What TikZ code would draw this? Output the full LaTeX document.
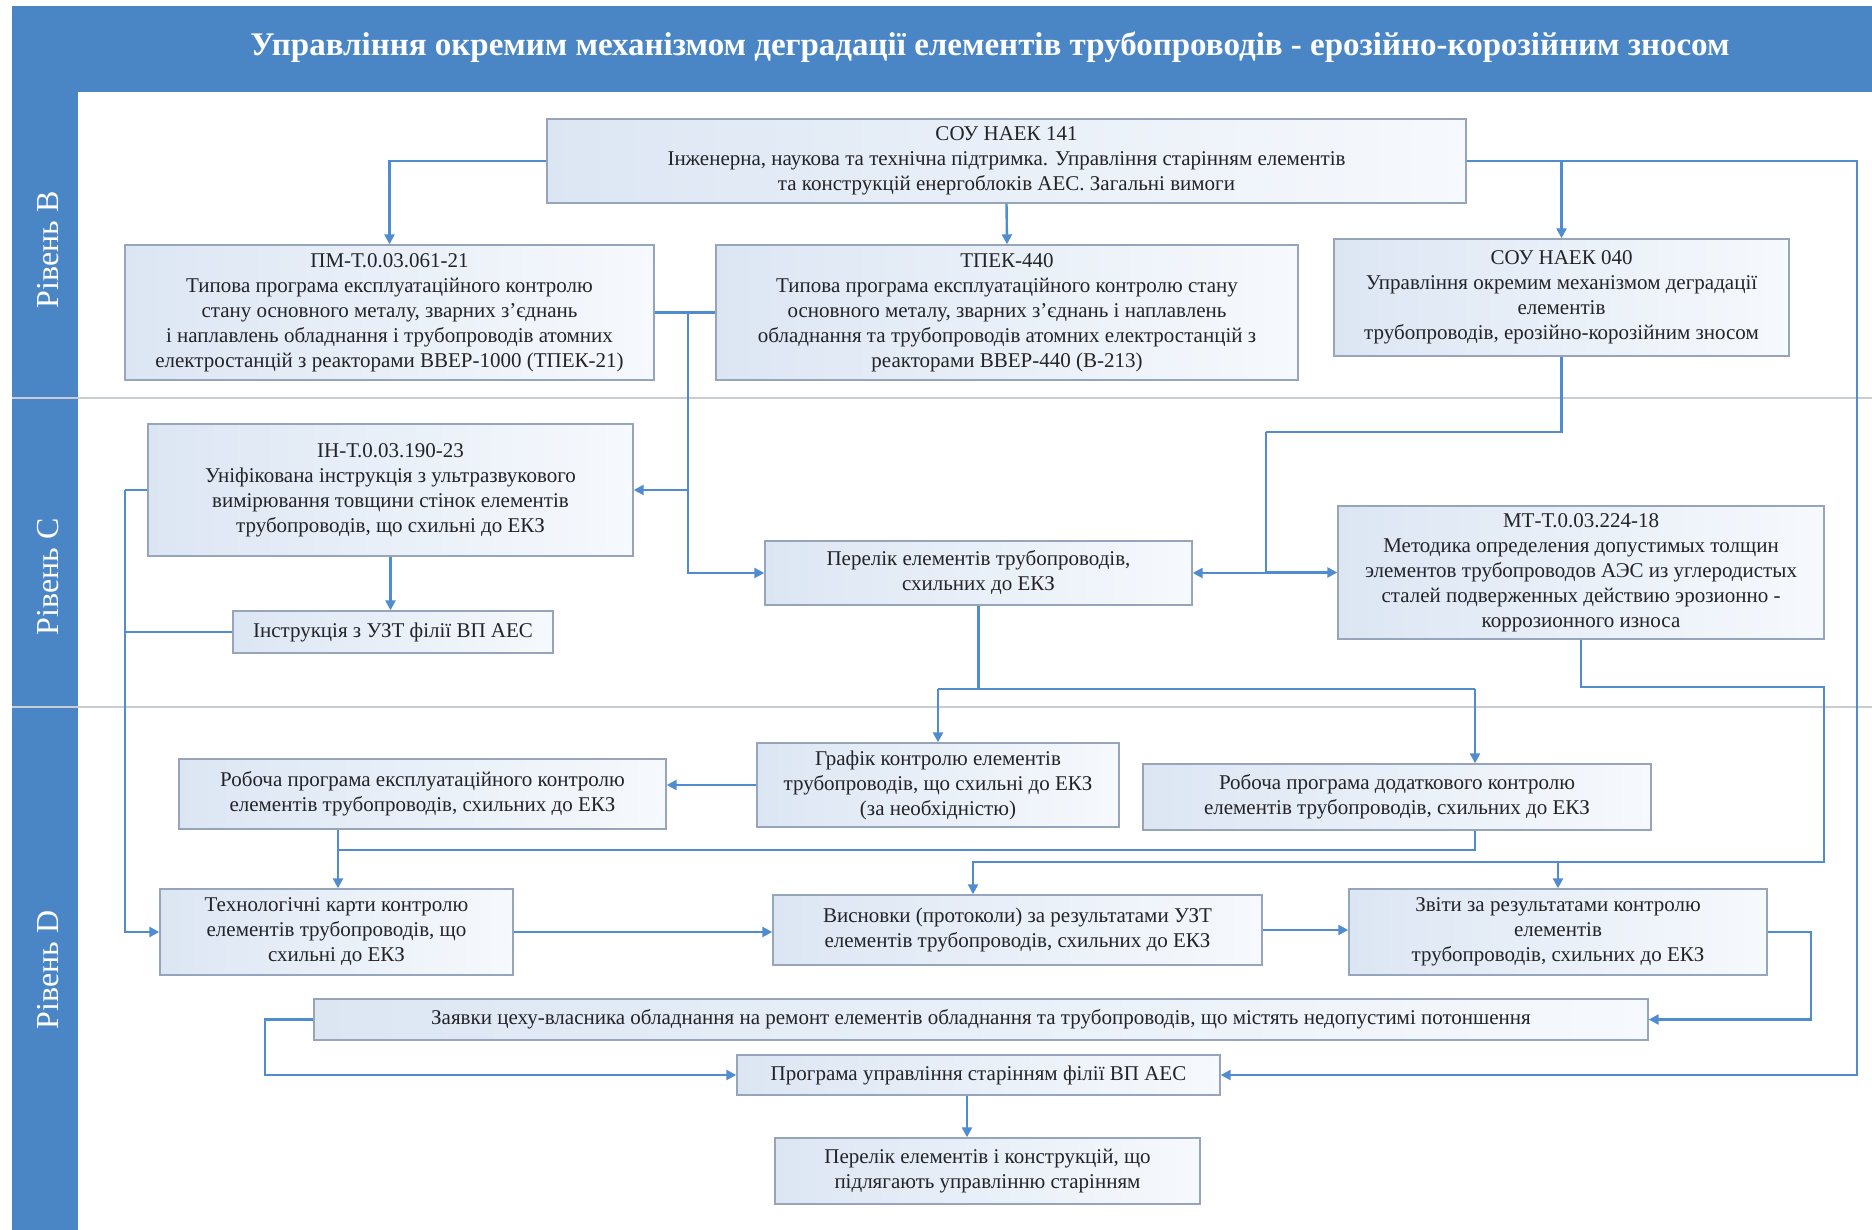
\documentclass[tikz,border=0pt]{standalone}
\usepackage{fontspec}
\setmainfont{Liberation Serif}
\usetikzlibrary{arrows.meta,calc}
\definecolor{band}{RGB}{74,134,197}
\definecolor{conn}{RGB}{79,141,208}
\definecolor{bord}{RGB}{150,165,188}
\definecolor{boxl}{RGB}{220,230,243}
\definecolor{boxr}{RGB}{246,249,253}
\definecolor{txt}{RGB}{35,35,40}
\definecolor{sepc}{RGB}{200,205,212}
\begin{document}
\begin{tikzpicture}[x=0.5pt,y=-0.5pt,
 bx/.style={draw=bord, line width=0.7pt, left color=boxl, right color=boxr, align=center, inner sep=2pt, text=txt, font=\fontsize{10.5}{12.5}\selectfont},
 ln/.style={draw=conn, line width=1.2pt},
 ar/.style={ln, -{Triangle[length=5pt,width=5pt]}},
 lvl/.style={rotate=90, text=white, font=\fontsize{16}{18}\selectfont},
]
\useasboundingbox (0,0) rectangle (1872,1230);
\fill[white] (0,0) rectangle (1872,1230);
\fill[band] (12,6) rectangle (1872,92);
\fill[band] (12,92) rectangle (78,1230);
\draw[sepc, line width=0.8pt] (12,398) -- (1872,398);
\draw[sepc, line width=0.8pt] (12,707) -- (1872,707);

\node[text=white, font=\fontsize{16.5}{20}\selectfont\bfseries] (title) at (990,47) {Управління окремим механізмом деградації елементів трубопроводів - ерозійно-корозійним зносом};

\node[lvl] (lvB) at (48,250) {Рівень В};
\node[lvl] (lvC) at (48,577) {Рівень С};
\node[lvl] (lvD) at (48,970) {Рівень D};

% boxes
\node[bx, minimum width=459.5pt, minimum height=42pt] (s141) at (1006.5,161) {СОУ НАЕК 141\\Інженерна, наукова та технічна підтримка. Управління старінням елементів\\та конструкцій енергоблоків АЕС. Загальні вимоги};
\node[bx, minimum width=264.5pt, minimum height=67.5pt] (pm) at (389.5,312.5) {ПМ-Т.0.03.061-21\\Типова програма експлуатаційного контролю\\стану основного металу, зварних з'єднань\\і наплавлень обладнання і трубопроводів атомних\\електростанцій з реакторами ВВЕР-1000 (ТПЕК-21)};
\node[bx, minimum width=291pt, minimum height=67.5pt] (tpek) at (1007,312.5) {ТПЕК-440\\Типова програма експлуатаційного контролю стану\\основного металу, зварних з'єднань і наплавлень\\обладнання та трубопроводів атомних електростанцій з\\реакторами ВВЕР-440 (В-213)};
\node[bx, minimum width=227.5pt, minimum height=58.5pt] (s040) at (1561.5,297.5) {СОУ НАЕК 040\\Управління окремим механізмом деградації\\елементів\\трубопроводів, ерозійно-корозійним зносом};
\node[bx, minimum width=242.5pt, minimum height=66pt] (inx) at (390.5,490) {ІН-Т.0.03.190-23\\Уніфікована інструкція з ультразвукового\\вимірювання товщини стінок елементів\\трубопроводів, що схильні до ЕКЗ};
\node[bx, minimum width=160pt, minimum height=21pt] (uzt) at (393,632) {Інструкція з УЗТ філії ВП АЕС};
\node[bx, minimum width=213.5pt, minimum height=32pt] (perel) at (978.5,573) {Перелік елементів трубопроводів,\\схильних до ЕКЗ};
\node[bx, minimum width=243pt, minimum height=66.5pt] (mt) at (1581,572.5) {МТ-Т.0.03.224-18\\Методика определения допустимых толщин\\элементов трубопроводов АЭС из углеродистых\\сталей подверженных действию эрозионно -\\коррозионного износа};
\node[bx, minimum width=243.5pt, minimum height=35pt] (robeks) at (422.5,794) {Робоча програма експлуатаційного контролю\\елементів трубопроводів, схильних до ЕКЗ};
\node[bx, minimum width=181pt, minimum height=42pt] (graf) at (938,785) {Графік контролю елементів\\трубопроводів, що схильні до ЕКЗ\\(за необхідністю)};
\node[bx, minimum width=254pt, minimum height=33pt] (robdod) at (1397,797) {Робоча програма додаткового контролю\\елементів трубопроводів, схильних до ЕКЗ};
\node[bx, minimum width=176.5pt, minimum height=43pt] (tekh) at (336.5,932) {Технологічні карти контролю\\елементів трубопроводів, що\\схильні до ЕКЗ};
\node[bx, minimum width=244.5pt, minimum height=35pt] (vysn) at (1017.5,930) {Висновки (протоколи) за результатами УЗТ\\елементів трубопроводів, схильних до ЕКЗ};
\node[bx, minimum width=209pt, minimum height=43pt] (zvit) at (1558,932) {Звіти за результатами контролю\\елементів\\трубопроводів, схильних до ЕКЗ};
\node[bx, minimum width=667pt, minimum height=20.5pt] (zayav) at (981,1019.5) {Заявки цеху-власника обладнання на ремонт елементів обладнання та трубопроводів, що містять недопустимі потоншення};
\node[bx, minimum width=241.5pt, minimum height=20pt] (prog) at (978.5,1075) {Програма управління старінням філії ВП АЕС};
\node[bx, minimum width=212.5pt, minimum height=33pt] (perk) at (987.5,1171) {Перелік елементів і конструкцій, що\\підлягають управлінню старінням};

% connectors
\draw[ar] (s141.west) -| (pm.north);
\draw[ar] (s141.south) -- (tpek.north);
\draw[ar] (s141.east) -| (s040.north);
\coordinate (r1) at (1857,161);
\draw[ar] (s141.east) -- (r1) |- (prog.east);

\draw[ln] (pm.east) -- (tpek.west);
\coordinate (j1) at (688,312.5);
\draw[ar] (j1) |- (perel.west);
\draw[ar] (j1 |- inx.east) -- (inx.east);

\coordinate (j2) at (1266,432);
\draw[ln] (s040.south) |- (j2);
\draw[ar] (j2) |- (perel.east);
\draw[ar] (j2 |- mt.west) -- (mt.west);

\coordinate (h1) at (938,689);
\coordinate (h2) at (1475,689);
\draw[ln] (perel.south) -- (perel.south |- h1);
\draw[ln] (h1) -- (h2);
\draw[ar] (h1) -- (graf.north);
\draw[ar] (h2) -- (h2 |- robdod.north);

\draw[ar] (graf.west) -- (graf.west -| robeks.east);

\coordinate (m1) at (1824,687);
\coordinate (m2) at (1824,862);
\coordinate (m3) at (973,862);
\draw[ar] (mt.south) |- (m1) -- (m2) -- (m3) -- (m3 |- vysn.north);
\draw[ar] (zvit.north |- m2) -- (zvit.north);

\coordinate (d1) at (1475,850);
\coordinate (d2) at (338,850);
\draw[ar] (robdod.south -| d1) -- (d1) -- (d2) -- (d2 |- tekh.north);
\draw[ln] (robeks.south -| d2) -- (d2);

\draw[ar] (tekh.east) -- (tekh.east -| vysn.west);
\draw[ar] (vysn.east) -- (vysn.east -| zvit.west);
\coordinate (z1) at (1811,932);
\draw[ar] (zvit.east) -- (z1) |- (zayav.east);
\coordinate (z2) at (265,1019.5);
\draw[ar] (zayav.west) -- (z2) |- (prog.west);
\coordinate (p1) at (967,1075);
\draw[ar] (prog.south -| p1) -- (p1 |- perk.north);

\coordinate (l1) at (125,490);
\draw[ln] (inx.west) -- (l1);
\draw[ar] (l1) |- (tekh.west);
\draw[ln] (uzt.west) -- (uzt.west -| l1);
\draw[ar] (inx.south) -- (inx.south |- uzt.north);
\end{tikzpicture}
\end{document}
